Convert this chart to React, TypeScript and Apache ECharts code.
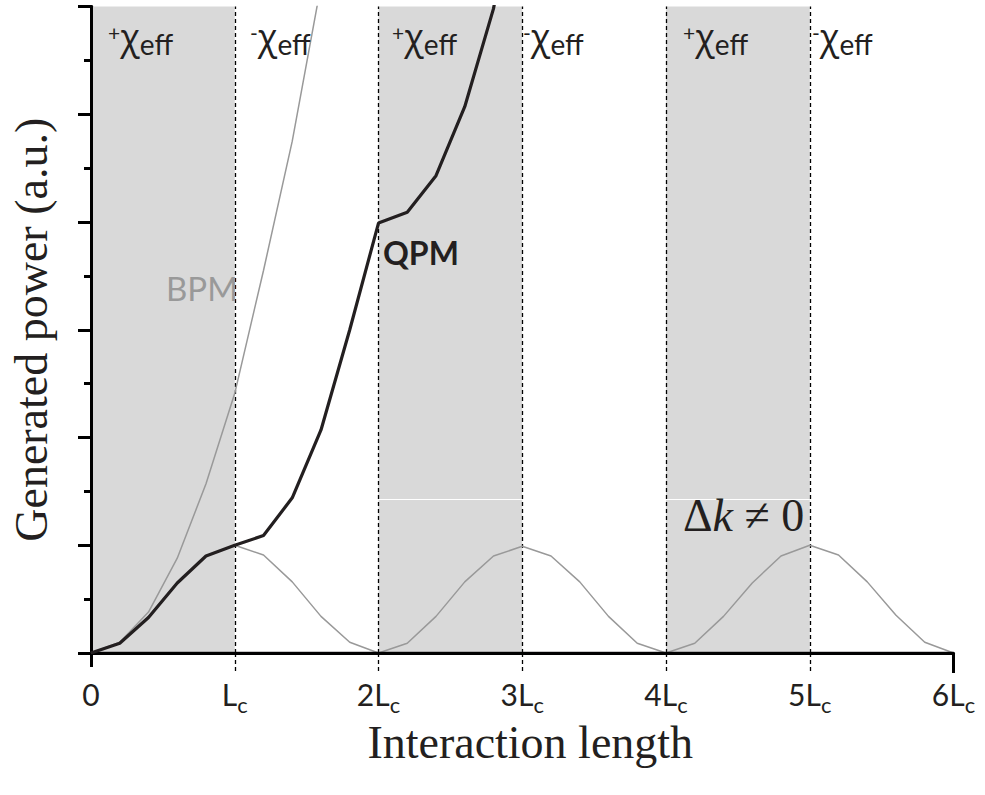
import React, { useEffect, useRef } from "react";
import * as echarts from "echarts";

// ---- data ----
const qpmX = [0, 0.2, 0.4, 0.6, 0.8, 1.0, 1.2, 1.4, 1.6, 1.8, 2.0, 2.2, 2.4, 2.6, 2.8, 3.0];
const qpmY = [0, 0.09, 0.33, 0.65, 0.9, 1.0, 1.09, 1.44, 2.07, 3.0, 3.99, 4.09, 4.43, 5.07, 5.98, 7.4];

const bpmX = [0, 0.2, 0.4, 0.6, 0.8, 1.0, 1.2, 1.4, 1.6];
const bpmY = [0, 0.1, 0.38, 0.88, 1.57, 2.41, 3.55, 4.75, 6.2];

const dkX = [
  0, 0.2, 0.4, 0.6, 0.8, 1.0, 1.2, 1.4, 1.6, 1.8, 2.0,
  2.2, 2.4, 2.6, 2.8, 3.0, 3.2, 3.4, 3.6, 3.8, 4.0,
  4.2, 4.4, 4.6, 4.8, 5.0, 5.2, 5.4, 5.6, 5.8, 6.0,
];
const dkY = [
  0, 0.09, 0.34, 0.65, 0.9, 1.0, 0.91, 0.66, 0.34, 0.1, 0,
  0.09, 0.34, 0.66, 0.9, 0.99, 0.9, 0.66, 0.34, 0.09, 0,
  0.09, 0.34, 0.65, 0.9, 1.0, 0.91, 0.66, 0.35, 0.1, 0,
];

const shadedRanges = [[0, 1], [2, 3], [4, 5]];
const boundaries = [1, 2, 3, 4, 5];
const whiteLineLevel = 1.43;
const whiteLineRanges = [[2, 3], [4, 5]];

const xTickMain = ["0", "L", "2L", "3L", "4L", "5L", "6L"];
const xTickSub = ["", "c", "c", "c", "c", "c", "c"];

const chiSigns = ["+", "-", "+", "-", "+", "-"];
const chiLeft = [108, 250, 392, 523, 683, 812];

export default function App() {
  const ref = useRef<HTMLDivElement>(null);

  useEffect(() => {
    if (!ref.current) return;
    const chart = echarts.init(ref.current, undefined, { renderer: "svg" });

    const pairs = (xs: number[], ys: number[]) => xs.map((x, i) => [x, ys[i]]);
    const ink = "#231f20";

    const chiTexts = chiSigns.map((s, i) => ({
      type: "text",
      z: 100,
      x: chiLeft[i],
      y: 36,
      style: {
        text: `{p|${s}}{x|χ}{s|eff}`,
        verticalAlign: "middle",
        align: "left",
        fill: ink,
        rich: {
          p: { fontFamily: "Lato", fontSize: 21, lineHeight: 46, padding: [0, 0, 8, 0], fill: ink },
          x: { fontFamily: "Open Sans", fontSize: 36, lineHeight: 46, fill: ink },
          s: { fontFamily: "Lato", fontSize: 28, lineHeight: 46, padding: [16, 0, 0, 0], fill: ink },
        },
      },
    }));

    const option: any = {
      animation: false,
      grid: { left: 90.5, top: 6.5, width: 863, height: 646.5 },
      xAxis: [
        {
          type: "value",
          min: 0,
          max: 6,
          interval: 1,
          position: "bottom",
          z: 3,
          axisLine: { show: true, lineStyle: { color: ink, width: 2.3 } },
          axisTick: {
            show: true,
            customValues: [1, 2, 3, 4, 5],
            length: 20,
            lineStyle: { type: [4, 3], color: "#000", width: 1.3 },
          },
          splitLine: { show: false },
          axisLabel: {
            margin: 19,
            formatter: (v: number) => {
              const i = Math.round(v);
              return xTickSub[i] ? `{n|${xTickMain[i]}}{s|${xTickSub[i]}}` : `{n|${xTickMain[i]}}`;
            },
            rich: {
              n: { fontFamily: "Lato", fontSize: 30, lineHeight: 44, color: ink },
              s: { fontFamily: "Lato", fontSize: 22, lineHeight: 44, padding: [20, 0, 0, 0], color: ink },
            },
          },
          name: "Interaction length",
          nameLocation: "middle",
          nameGap: 58,
          nameTextStyle: {
            fontFamily: "Liberation Serif",
            fontSize: 46,
            color: ink,
            padding: [0, 0, 0, 16],
          },
        },
        {
          type: "value",
          min: 0,
          max: 6,
          position: "top",
          z: 3,
          axisLine: { show: true, lineStyle: { color: "#000", width: 3 } },
          axisTick: { show: false },
          axisLabel: { show: false },
          splitLine: { show: false },
        },
        {
          type: "value",
          min: 0,
          max: 6,
          interval: 6,
          position: "bottom",
          z: 3,
          axisLine: { show: false },
          axisTick: { show: true, customValues: [0], length: 14, lineStyle: { color: "#000", width: 3 } },
          axisLabel: { show: false },
          splitLine: { show: false },
        },
        {
          type: "value",
          min: 0,
          max: 6,
          interval: 6,
          position: "bottom",
          z: 3,
          axisLine: { show: false },
          axisTick: { show: true, customValues: [6], length: 20, lineStyle: { color: "#000", width: 3 } },
          axisLabel: { show: false },
          splitLine: { show: false },
        },
      ],
      yAxis: [
        {
          type: "value",
          min: 0,
          max: 6,
          interval: 1,
          z: 3,
          axisLine: { show: true, lineStyle: { color: "#000", width: 3 } },
          axisTick: { show: true, length: 13, lineStyle: { color: "#000", width: 3 } },
          minorTick: { show: true, splitNumber: 2, length: 7, lineStyle: { color: "#000", width: 3 } },
          axisLabel: { show: false },
          splitLine: { show: false },
          minorSplitLine: { show: false },
          name: "Generated power (a.u.)",
          nameLocation: "middle",
          nameGap: 37,
          nameTextStyle: { fontFamily: "Liberation Serif", fontSize: 46, color: ink },
        },
        {
          type: "value",
          min: 0,
          max: 6,
          position: "right",
          z: 3,
          axisLine: { show: true, lineStyle: { color: "#000", width: 3 } },
          axisTick: { show: false },
          axisLabel: { show: false },
          splitLine: { show: false },
        },
      ],
      series: [
        {
          type: "line",
          name: "dk",
          data: pairs(dkX, dkY),
          symbol: "none",
          z: 2,
          lineStyle: { color: "#999999", width: 1.5 },
          markArea: {
            silent: true,
            z: 1,
            itemStyle: { color: "#d9d9d9" },
            data: shadedRanges.map(([a, b]) => [{ xAxis: a }, { xAxis: b }]),
          },
          markLine: {
            silent: true,
            z: 2,
            symbol: ["none", "none"],
            label: { show: false },
            lineStyle: { color: "#000", type: [4, 3], width: 1.3 },
            data: [
              ...whiteLineRanges.map(([a, b]) => [
                { coord: [a, whiteLineLevel], lineStyle: { color: "#ffffff", type: "solid", width: 1.2 } },
                { coord: [b, whiteLineLevel] },
              ]),
              ...boundaries.map((b) => ({ xAxis: b })),
            ],
          },
        },
        {
          type: "line",
          name: "BPM",
          data: pairs(bpmX, bpmY),
          symbol: "none",
          z: 3,
          lineStyle: { color: "#999999", width: 1.5 },
        },
        {
          type: "line",
          name: "QPM",
          data: pairs(qpmX, qpmY),
          symbol: "none",
          z: 4,
          lineStyle: { color: ink, width: 3.2 },
        },
      ],
      graphic: [
        ...chiTexts,
        {
          type: "text",
          z: 100,
          x: 383,
          y: 252,
          style: {
            text: "QPM",
            fontFamily: "Lato",
            fontWeight: "bold",
            fontSize: 32,
            fill: ink,
            verticalAlign: "middle",
          },
        },
        {
          type: "text",
          z: 100,
          x: 166,
          y: 288,
          style: {
            text: "BPM",
            fontFamily: "Lato",
            fontSize: 33,
            fill: "#999999",
            verticalAlign: "middle",
          },
        },
        {
          type: "text",
          z: 100,
          x: 683,
          y: 515,
          style: {
            text: "{d|Δ}{k|k}{r| ≠ 0}",
            verticalAlign: "middle",
            fill: ink,
            rich: {
              d: { fontFamily: "Liberation Serif", fontSize: 46, fill: ink },
              k: { fontFamily: "Liberation Serif", fontStyle: "italic", fontSize: 46, fill: ink },
              r: { fontFamily: "Liberation Serif", fontSize: 46, fill: ink },
            },
          },
        },
      ],
    };

    chart.setOption(option);
    return () => chart.dispose();
  }, []);

  return (
    <div
      ref={ref}
      style={{ position: "fixed", left: 0, top: 0, width: 985, height: 795, background: "#ffffff" }}
    />
  );
}
